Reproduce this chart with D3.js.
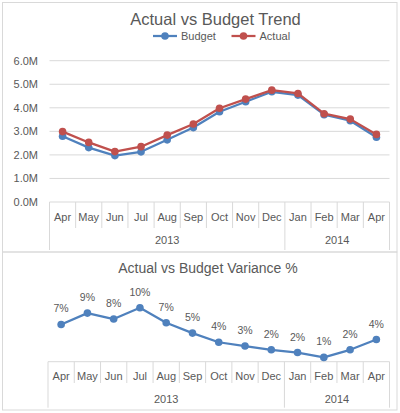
<!DOCTYPE html>
<html>
<head>
<meta charset="utf-8">
<script src="https://cdn.jsdelivr.net/npm/d3@7"></script>
<style>
  body { margin: 0; background: #fff; }
  svg { display: block; font-family: "Liberation Sans", Arial, sans-serif; }
</style>
</head>
<body>
<div id="chart"></div>
<script>
// data
var months = ["Apr", "May", "Jun", "Jul", "Aug", "Sep", "Oct", "Nov", "Dec", "Jan", "Feb", "Mar", "Apr"];
var years = ["2013", "2013", "2013", "2013", "2013", "2013", "2013", "2013", "2013", "2014", "2014", "2014", "2014"];
var budget = [2.79, 2.31, 1.97, 2.13, 2.64, 3.16, 3.83, 4.26, 4.68, 4.54, 3.71, 3.45, 2.75];
var actual = [2.99, 2.53, 2.14, 2.35, 2.84, 3.31, 3.98, 4.37, 4.75, 4.61, 3.75, 3.52, 2.87];
var variance = [6.9, 9.0, 7.9, 10.0, 7.2, 5.3, 3.6, 2.9, 2.2, 1.7, 0.8, 2.2, 4.1];
var yTicks = [0, 1, 2, 3, 4, 5, 6];

var w = 400, h = 413;
var textColor = "#595959";
var gridColor = "#d9d9d9";
var blue = "#4f81bd";
var red = "#c0504d";

var svg = d3.select("#chart")
    .append("svg")
    .attr("width", w)
    .attr("height", h);

// panel borders
svg.append("rect")
    .attr("x", 2.5).attr("y", 2.5)
    .attr("width", 394.5).attr("height", 249.5)
    .attr("fill", "none").attr("stroke", gridColor);
svg.append("rect")
    .attr("x", 2.5).attr("y", 252)
    .attr("width", 394.5).attr("height", 158)
    .attr("fill", "none").attr("stroke", gridColor);

var idx = months.map(function(d, i) { return i; });

// draws the two-level month / year category axis
function categoryAxis(x, top, monthBottom, yearBottom, monthBase, yearBase) {
    var g = svg.append("g");
    g.append("line")
        .attr("x1", x.range()[0]).attr("x2", x.range()[1])
        .attr("y1", top).attr("y2", top)
        .attr("stroke", gridColor);

    idx.forEach(function(i) {
        var x0 = x(i);
        var isYearStart = i == 0 || years[i] != years[i - 1];
        g.append("line")
            .attr("x1", x0).attr("x2", x0)
            .attr("y1", top).attr("y2", isYearStart ? yearBottom : monthBottom)
            .attr("stroke", gridColor);
    });
    g.append("line")
        .attr("x1", x.range()[1]).attr("x2", x.range()[1])
        .attr("y1", top).attr("y2", yearBottom)
        .attr("stroke", gridColor);

    g.selectAll("text.month")
        .data(months)
        .enter()
        .append("text")
        .attr("class", "month")
        .attr("x", function(d, i) { return x(i) + x.bandwidth() / 2; })
        .attr("y", monthBase)
        .attr("text-anchor", "middle")
        .attr("font-size", "11px")
        .attr("fill", textColor)
        .text(function(d) { return d; });

    var groups = d3.groups(idx, function(i) { return years[i]; });
    g.selectAll("text.year")
        .data(groups)
        .enter()
        .append("text")
        .attr("class", "year")
        .attr("x", function(d) {
            var a = x(d[1][0]);
            var b = x(d[1][d[1].length - 1]) + x.bandwidth();
            return (a + b) / 2;
        })
        .attr("y", yearBase)
        .attr("text-anchor", "middle")
        .attr("font-size", "11px")
        .attr("fill", textColor)
        .text(function(d) { return d[0]; });
}

// ---------- top chart: actual vs budget ----------
var x1 = d3.scaleBand().domain(idx).range([49.5, 389.5]);
var y1 = d3.scaleLinear().domain([0, 6]).range([202, 60.7]);

svg.append("text")
    .attr("x", 215.5).attr("y", 25)
    .attr("text-anchor", "middle")
    .attr("font-size", "16.5px")
    .attr("fill", textColor)
    .text("Actual vs Budget Trend");

svg.append("g")
    .selectAll("line")
    .data(yTicks.slice(1))
    .enter()
    .append("line")
    .attr("x1", 49.5).attr("x2", 389.5)
    .attr("y1", function(d) { return y1(d); })
    .attr("y2", function(d) { return y1(d); })
    .attr("stroke", gridColor);

var yAxis = svg.append("g")
    .attr("transform", "translate(40,0)")
    .call(d3.axisLeft(y1).tickValues(yTicks).tickSize(0).tickPadding(2)
        .tickFormat(function(d) { return d3.format(".1f")(d) + "M"; }));
yAxis.select(".domain").remove();
yAxis.selectAll("text")
    .attr("font-size", "11px")
    .attr("font-family", "Liberation Sans, Arial, sans-serif")
    .attr("fill", textColor);

categoryAxis(x1, 202, 228, 250, 221, 243.5);

var line1 = d3.line()
    .x(function(d, i) { return x1(i) + x1.bandwidth() / 2; })
    .y(function(d) { return y1(d); });

[[budget, blue], [actual, red]].forEach(function(s) {
    svg.append("path")
        .datum(s[0])
        .attr("d", line1)
        .attr("fill", "none")
        .attr("stroke", s[1])
        .attr("stroke-width", 2.25)
        .attr("stroke-linejoin", "round");
    svg.append("g")
        .selectAll("circle")
        .data(s[0])
        .enter()
        .append("circle")
        .attr("cx", function(d, i) { return x1(i) + x1.bandwidth() / 2; })
        .attr("cy", function(d) { return y1(d); })
        .attr("r", 3.8)
        .attr("fill", s[1]);
});

// legend
var legend = [["Budget", blue, 165], ["Actual", red, 243.5]];
legend.forEach(function(l) {
    svg.append("line")
        .attr("x1", l[2] - 12).attr("x2", l[2] + 12)
        .attr("y1", 36).attr("y2", 36)
        .attr("stroke", l[1]).attr("stroke-width", 2.25);
    svg.append("circle")
        .attr("cx", l[2]).attr("cy", 36).attr("r", 3.8)
        .attr("fill", l[1]);
    svg.append("text")
        .attr("x", l[2] + 16).attr("y", 40)
        .attr("font-size", "11px")
        .attr("fill", textColor)
        .text(l[0]);
});

// ---------- bottom chart: variance % ----------
var x2 = d3.scaleBand().domain(idx).range([48, 389.5]);
var y2 = d3.scaleLinear().domain([0, 12]).range([361.7, 296.9]);

svg.append("text")
    .attr("x", 208).attr("y", 273)
    .attr("text-anchor", "middle")
    .attr("font-size", "14px")
    .attr("fill", textColor)
    .text("Actual vs Budget Variance %");

categoryAxis(x2, 361.7, 383, 407.7, 380, 402.7);

var line2 = d3.line()
    .x(function(d, i) { return x2(i) + x2.bandwidth() / 2; })
    .y(function(d) { return y2(d); });

svg.append("path")
    .datum(variance)
    .attr("d", line2)
    .attr("fill", "none")
    .attr("stroke", blue)
    .attr("stroke-width", 2.25)
    .attr("stroke-linejoin", "round");

svg.append("g")
    .selectAll("circle")
    .data(variance)
    .enter()
    .append("circle")
    .attr("cx", function(d, i) { return x2(i) + x2.bandwidth() / 2; })
    .attr("cy", function(d) { return y2(d); })
    .attr("r", 3.8)
    .attr("fill", blue);

svg.append("g")
    .selectAll("text")
    .data(variance)
    .enter()
    .append("text")
    .attr("x", function(d, i) { return x2(i) + x2.bandwidth() / 2; })
    .attr("y", function(d) { return y2(d) - 12; })
    .attr("text-anchor", "middle")
    .attr("font-size", "10.5px")
    .attr("fill", textColor)
    .text(function(d) { return Math.round(d) + "%"; });
</script>
</body>
</html>
